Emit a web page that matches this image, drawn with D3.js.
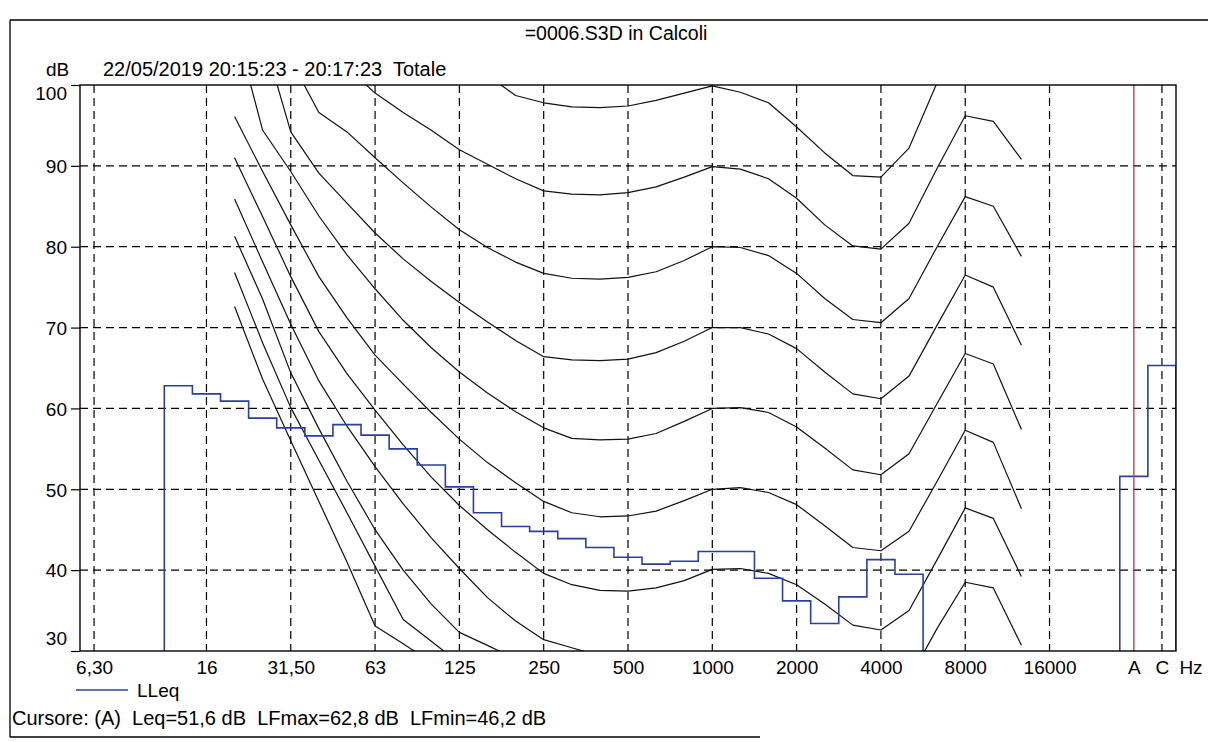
<!DOCTYPE html>
<html><head><meta charset="utf-8">
<script src="https://cdn.jsdelivr.net/npm/d3@7"></script>
<style>
html,body{margin:0;padding:0;background:#fff;}
svg{display:block;font-family:"Liberation Sans",Arial,Helvetica,sans-serif;}
</style></head><body>
<svg id="chart" width="1208" height="742"></svg>
<script>
// ---------- DATA ----------
const bands = ["6.3","8","10","12.5","16","20","25","31.5","40","50","63","80","100","125","160","200","250","315","400","500","630","800","1000","1250","1600","2000","2500","3150","4000","5000","6300","8000","10000","12500","16000","20000","25000","A","C"];
const tickBands  = ["6.3","16","31.5","63","125","250","500","1000","2000","4000","8000","16000","A","C"];
const tickLabels = ["6,30","16","31,50","63","125","250","500","1000","2000","4000","8000","16000","A","C"];
const yTicks = [30,40,50,60,70,80,90,100];

const lleqBands  = ["12.5","16","20","25","31.5","40","50","63","80","100","125","160","200","250","315","400","500","630","800","1000","1250","1600","2000","2500","3150","4000","5000"];
const lleqValues = [62.8,61.8,60.9,58.8,57.6,56.6,58.0,56.7,55.0,53.0,50.3,47.1,45.4,44.8,43.9,42.8,41.6,40.75,41.1,42.3,42.3,39.0,36.2,33.4,36.7,41.3,39.5];
const totalBands  = ["A","C"];
const totalValues = [51.6,65.3];
const cursorBand = "A";

const contourBands = ["20","25","31.5","40","50","63","80","100","125","160","200","250","315","400","500","630","800","1000","1250","1600","2000","2500","3150","4000","5000","6300","8000","10000","12500"];
const phon0   = [72.6,63.6,56.0,48.5,41.0,33.1,30.9,28.6,25.0,21.0,17.0,13.5,10.5,8.2,6.5,5.3,4.6,4.2,3.6,2.6,1.0,-1.2,-3.6,-3.9,-1.1,6.6,15.3,16.4,11.6];
const phon10  = [76.8,68.1,60.1,53.6,47.1,40.5,33.9,31.2,28.5,25.5,22.5,20.0,17.5,15.0,13.0,11.5,10.5,10.0,10.0,9.5,8.0,5.5,3.0,2.5,5.0,11.0,18.0,18.5,13.0];
const phon20  = [81.3,73.5,64.4,57.5,51.0,45.0,40.0,35.8,32.3,30.7,29.0,26.5,24.0,22.0,20.8,20.0,19.8,20.0,20.0,19.5,18.0,15.5,13.0,12.5,15.5,22.0,28.5,28.0,21.0];
const phon30  = [85.9,78.1,70.4,63.4,57.8,52.8,48.2,44.0,40.2,36.6,33.7,31.4,30.4,29.4,28.8,28.6,29.0,29.8,29.8,29.3,28.0,25.8,23.4,22.8,26.5,32.8,38.5,37.8,30.7];
const phon40  = [91.0,83.7,76.3,69.5,64.3,59.8,55.5,51.5,48.0,45.0,42.2,39.6,38.2,37.5,37.4,37.8,38.7,40.1,40.2,39.6,38.2,35.8,33.2,32.6,35.0,41.3,47.7,46.4,39.2];
const phon50  = [96.1,89.3,82.7,76.3,71.2,66.6,63.0,59.5,56.2,53.3,50.8,48.5,47.1,46.6,46.7,47.3,48.6,50.0,50.2,49.6,48.1,45.5,42.8,42.4,44.8,51.0,57.3,55.8,47.6];
const phon60  = [107.5,94.4,89.3,83.8,79.0,74.8,70.9,67.5,64.5,61.9,59.6,57.6,56.3,56.1,56.2,56.9,58.4,60.0,60.1,59.5,57.7,55.1,52.4,51.8,54.4,60.6,66.8,65.5,57.4];
const phon70  = [113.0,106.2,94.2,89.1,85.4,81.7,78.5,75.7,73.1,70.7,68.4,66.4,66.0,65.9,66.1,66.9,68.3,70.0,70.0,69.2,67.4,64.5,61.8,61.2,64.0,70.3,76.5,75.0,67.8];
const phon80  = [117.0,110.0,103.1,96.6,94.2,91.0,87.9,84.9,82.1,79.9,78.1,76.7,76.1,76.0,76.2,76.9,78.3,80.0,79.9,78.9,76.7,73.6,71.0,70.6,73.6,80.0,86.2,85.0,78.8];
const phon90  = [122.0,116.0,111.0,106.0,102.2,99.0,96.6,94.4,92.0,90.2,88.4,86.9,86.5,86.4,86.7,87.4,88.6,89.9,89.6,88.4,86.0,82.7,80.1,79.7,82.9,89.7,96.2,95.5,90.8];
const phon100 = [130.0,126.0,121.0,116.0,112.0,108.5,105.5,103.5,102.3,101.2,98.7,97.8,97.3,97.2,97.4,98.1,99.0,99.9,99.1,97.8,94.8,91.6,88.8,88.6,92.2,100.3,106.0,105.0,101.0];
const contours = [phon0,phon10,phon20,phon30,phon40,phon50,phon60,phon70,phon80,phon90,phon100];

const titleText = "=0006.S3D in Calcoli";
const unitText = "dB";
const subtitleText = "22/05/2019 20:15:23 - 20:17:23  Totale";
const legendText = "LLeq";
const cursorText = "Cursore: (A)  Leq=51,6 dB  LFmax=62,8 dB  LFmin=46,2 dB";

// ---------- LAYOUT ----------
const L = 80, R = 1176, T = 85, B = 651;
const FONT = 19, FONT_HEAD = 20;
const BLUE = "#2a3fa0", RED = "#e02050";

const svg = d3.select("#chart");
svg.append("rect").attr("width",1208).attr("height",742).attr("fill","#fff");

const x = d3.scalePoint().domain(bands).range([L,R]).padding(0.5);
const y = d3.scaleLinear().domain([30,100]).range([B,T]);
const half = x.step()/2;

// outer frame
svg.append("path")
  .attr("d","M10,20 L1208,20 M10,20 L10,737 M10,737 L760,737")
  .attr("fill","none").attr("stroke","#000").attr("stroke-width",1.3);

// texts
svg.append("text").attr("x",616).attr("y",40).attr("text-anchor","middle")
  .attr("font-size",19.5).text(titleText);
svg.append("text").attr("x",46).attr("y",76).attr("font-size",FONT).text(unitText);
svg.append("text").attr("x",103).attr("y",76).attr("font-size",FONT_HEAD)
  .style("white-space","pre").text(subtitleText);

// clip
svg.append("defs").append("clipPath").attr("id","plotclip")
  .append("rect").attr("x",L).attr("y",T).attr("width",R-L).attr("height",B-T);

// grid
const grid = svg.append("g").attr("stroke","#000").attr("stroke-width",1.2)
  .attr("stroke-dasharray","8,5").attr("fill","none");
grid.selectAll("line.v").data(tickBands.filter(d=>d!==cursorBand)).join("line").attr("class","v")
  .attr("x1",d=>x(d)).attr("x2",d=>x(d)).attr("y1",T).attr("y2",B);
grid.selectAll("line.h").data(yTicks.filter(v=>v>30 && v<100)).join("line").attr("class","h")
  .attr("x1",L).attr("x2",R).attr("y1",d=>y(d)).attr("y2",d=>y(d));

// y axis ticks + labels
const yAxis = d3.axisLeft(y).tickValues(yTicks).tickSize(9).tickFormat(d=>d);
const yg = svg.append("g").attr("transform",`translate(${L},0)`).call(yAxis);
yg.select(".domain").remove();
yg.selectAll(".tick line").attr("stroke","#000").attr("stroke-width",1.2);
yg.selectAll(".tick text").attr("font-size",FONT).attr("fill","#000")
  .attr("font-family","Liberation Sans, Arial, sans-serif")
  .attr("x",-13)
  .attr("dy",d=>{const py=y(d); const c=Math.max(T+8,Math.min(B-13,py)); return (c-py+6.8)+"px";});

// x axis labels
const xAxis = d3.axisBottom(x).tickValues(tickBands).tickSize(0)
  .tickFormat(d=>tickLabels[tickBands.indexOf(d)]);
const xg = svg.append("g").attr("transform",`translate(0,${B})`).call(xAxis);
xg.select(".domain").remove();
xg.selectAll(".tick text").attr("font-size",FONT).attr("fill","#000")
  .attr("font-family","Liberation Sans, Arial, sans-serif")
  .attr("y",0).attr("dy","23px");
svg.append("text").attr("x",1191).attr("y",B+23).attr("text-anchor","middle")
  .attr("font-size",FONT).text("Hz");

// contours
const plot = svg.append("g").attr("clip-path","url(#plotclip)");
const cline = d3.line().x((d,i)=>x(contourBands[i])).y(d=>y(d));
plot.selectAll("path.contour").data(contours).join("path").attr("class","contour")
  .attr("d",cline).attr("fill","none").attr("stroke","#111").attr("stroke-width",1.2)
  .attr("stroke-linejoin","round");

// LLeq step spectrum
function stepPts(bs, vs){
  const pts = [[x(bs[0])-half, 30]];
  bs.forEach((b,i)=>{ pts.push([x(b)-half, vs[i]]); pts.push([x(b)+half, vs[i]]); });
  pts.push([x(bs[bs.length-1])+half, 30]);
  return pts;
}
const sline = d3.line().x(d=>d[0]).y(d=>y(d[1]));
plot.append("path").attr("d",sline(stepPts(lleqBands,lleqValues)))
  .attr("fill","none").attr("stroke",BLUE).attr("stroke-width",1.6);
plot.append("path").attr("d",sline(stepPts(totalBands,totalValues)))
  .attr("fill","none").attr("stroke",BLUE).attr("stroke-width",1.6);

// cursor
svg.append("line").attr("x1",x(cursorBand)).attr("x2",x(cursorBand)).attr("y1",T).attr("y2",B)
  .attr("stroke",RED).attr("stroke-width",1.3);

// plot border
svg.append("rect").attr("x",L).attr("y",T).attr("width",R-L).attr("height",B-T)
  .attr("fill","none").attr("stroke","#000").attr("stroke-width",1.4);

// legend
svg.append("line").attr("x1",76).attr("x2",128).attr("y1",690).attr("y2",690)
  .attr("stroke",BLUE).attr("stroke-width",1.6);
svg.append("text").attr("x",137).attr("y",697).attr("font-size",FONT).text(legendText);

// cursor info
svg.append("text").attr("x",12).attr("y",725).attr("font-size",FONT_HEAD)
  .style("white-space","pre").text(cursorText);
</script>
</body></html>
